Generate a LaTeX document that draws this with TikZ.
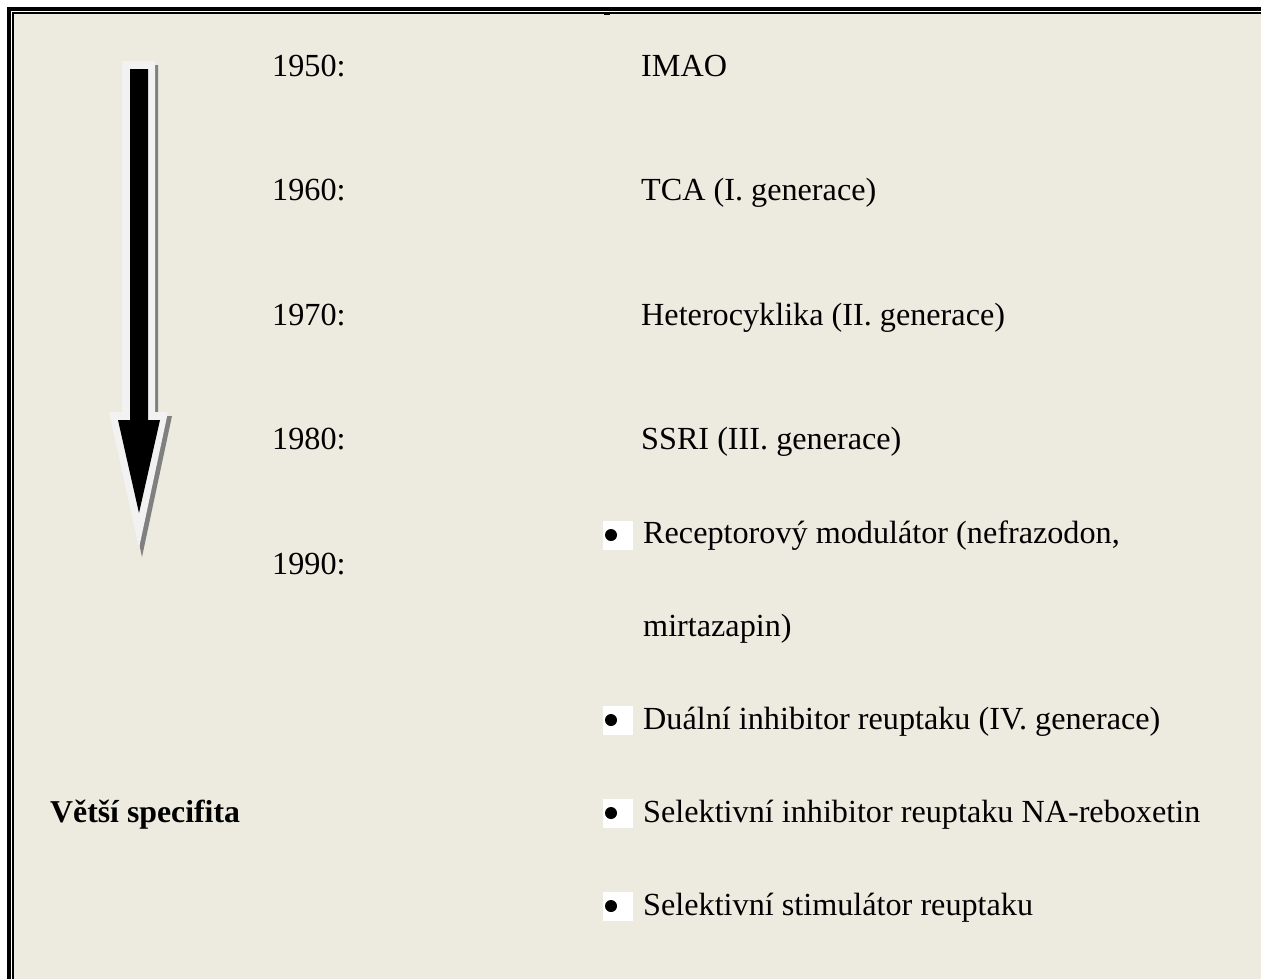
\documentclass[tikz,border=0pt]{standalone}
\usepackage{fontspec}
\setmainfont{Liberation Serif}
\definecolor{bgc}{HTML}{EDEAE0}
\definecolor{arrowlight}{HTML}{F2F2F2}
\definecolor{shadowc}{HTML}{808080}
\tikzset{
  txt/.style={anchor=base west, inner sep=0pt, font=\fontsize{32.2}{38}\selectfont},
  btxt/.style={txt, font=\fontsize{31.8}{38}\selectfont\bfseries},
  bulletbox/.style={fill=white, draw=none, minimum width=30, minimum height=29, inner sep=0pt},
  bulletdot/.style={circle, fill=black, inner sep=0pt, minimum size=12}
}
\begin{document}
\begin{tikzpicture}[x=1pt,y=-1pt]
\useasboundingbox (0,0) rectangle (1261,978);
% frame
\fill[white] (0,0) rectangle (1261,978);
\fill[black] (7,7) rectangle (1262,979);
\fill[white] (11,11) rectangle (1262,979);
\fill[black] (12,12) rectangle (1262,979);
\fill[bgc] (13.5,13.5) rectangle (1262,979);
\fill[black] (604,13.5) rectangle (610,15);
% arrow
\fill[shadowc] (125,65) -- (158,65) -- (158,416) -- (172,416) -- (142,557) -- (112,416) -- (125,416) -- cycle;
\fill[arrowlight] (122,61) -- (155,61) -- (155,412) -- (168,412) -- (139,548) -- (109,412) -- (122,412) -- cycle;
\fill[black] (130,69) -- (148,69) -- (148,420) -- (160,420) -- (139,513) -- (118,420) -- (130,420) -- cycle;
% years
\node[txt] (y1950) at (272,76) {1950:};
\node[txt] (y1960) at (272,200) {1960:};
\node[txt] (y1970) at (272,325) {1970:};
\node[txt] (y1980) at (272,449) {1980:};
\node[txt] (y1990) at (272,574) {1990:};
% right column
\node[txt] (imao) at (641,76) {IMAO};
\node[txt] (tca) at (641,200) {TCA (I. generace)};
\node[txt] (het) at (641,325) {Heterocyklika (II. generace)};
\node[txt] (ssri) at (641,449) {SSRI (III. generace)};
% bullets
\node[bulletbox] (bb1) at (618,535) {};
\node[bulletdot] (bd1) at (611,535) {};
\node[txt] (rec) at (643,543) {Receptorový modulátor (nefrazodon,};
\node[txt] (mir) at (643,636) {mirtazapin)};
\node[bulletbox] (bb2) at (618,720) {};
\node[bulletdot] (bd2) at (611,720) {};
\node[txt] (dual) at (643,729) {Duální inhibitor reuptaku (IV. generace)};
\node[bulletbox] (bb3) at (618,813) {};
\node[bulletdot] (bd3) at (611,813) {};
\node[txt] (sel) at (643,822) {Selektivní inhibitor reuptaku NA-reboxetin};
\node[bulletbox] (bb4) at (618,906) {};
\node[bulletdot] (bd4) at (611,906) {};
\node[txt] (stim) at (643,915) {Selektivní stimulátor reuptaku};
% left label
\node[btxt] (spec) at (50,822) {Větší specifita};
\end{tikzpicture}
\end{document}
